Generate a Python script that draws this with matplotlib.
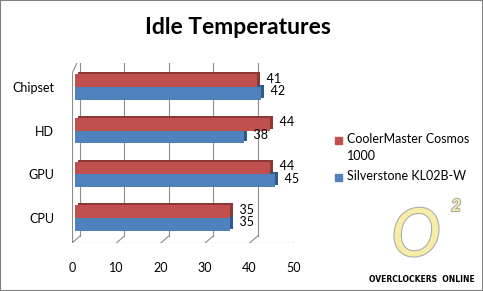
import matplotlib
matplotlib.use("Agg")
import matplotlib.pyplot as plt
import matplotlib.transforms as mtransforms
import matplotlib.patheffects as pe
from matplotlib.patches import Rectangle
import numpy as np

# ---------- DATA ---------- #
categories = ["CPU", "GPU", "HD", "Chipset"]
coolermaster = [35, 44, 44, 41]
silverstone = [35, 45, 38, 42]
series_names = ["CoolerMaster Cosmos\n1000", "Silverstone KL02B-W"]
xticks = [0, 10, 20, 30, 40, 50]

RED, RED_DARK = "#C0504D", "#8C3836"
BLUE, BLUE_DARK = "#4F81BD", "#2E5A8E"
GRID = "#8C8C8C"
FONT = ["Lato", "DejaVu Sans"]

plt.rcParams["font.family"] = FONT

fig = plt.figure(figsize=(4.83, 2.91), dpi=100)
fig.patches.append(Rectangle((0, 0), 1, 1, transform=fig.transFigure,
                             fill=False, edgecolor="#7F7F7F", lw=1.5))

# front plane: 0 -> x=72px, 50 -> x=294px ; floor y=243px, top y=63px
ax = fig.add_axes([72 / 483, 1 - 243 / 291, 222 / 483, 180 / 291])
ax.set_xlim(0, 50)
ax.set_ylim(-0.57, 3.55)
for s in ax.spines.values():
    s.set_visible(False)
ax.patch.set_alpha(0)

# depth offset for back wall
depth = mtransforms.offset_copy(ax.transData, fig=fig, x=8, y=7, units="dots")
back_ax = mtransforms.offset_copy(ax.transAxes, fig=fig, x=8, y=7, units="dots")

# back wall gridlines
for v in xticks:
    ax.plot([v, v], [0, 1], color=GRID, lw=0.8,
            transform=mtransforms.blended_transform_factory(depth, back_ax))
# floor: front edge, diagonal stubs
ax.plot([0, 1], [0, 0], color=GRID, lw=0.8, transform=ax.transAxes)
for v in xticks:
    x0, y0 = ax.transData.transform((v, -0.57))
    x1, y1 = depth.transform((v, -0.57))
    ax.plot([x0, x1], [y0, y1], color=GRID, lw=0.8, transform=None)
# left wall front edge + top diagonal
ax.plot([0, 0], [0, 0.94], color=GRID, lw=0.8, transform=ax.transAxes)
xa, ya = ax.transAxes.transform((0, 0.94))
xb, yb = back_ax.transform((0, 1))
ax.plot([xa, xb], [ya, yb], color=GRID, lw=0.8, transform=None)

# bars with a thin 3D side
y = np.arange(len(categories))
h = 0.29
bar_tr = mtransforms.offset_copy(ax.transData, fig=fig, x=3, y=0, units="dots")
side_tr = mtransforms.offset_copy(ax.transData, fig=fig, x=6, y=2, units="dots")

for vals, off, col, dark in [(coolermaster, h / 2, RED, RED_DARK),
                             (silverstone, -h / 2, BLUE, BLUE_DARK)]:
    ax.barh(y + off, vals, height=h, color=dark, transform=side_tr, zorder=2)
    ax.barh(y + off, vals, height=h, color=col, transform=bar_tr, zorder=3)
    for yi, v in zip(y, vals):
        ax.text(v, yi + off, "  " + str(v), va="center", ha="left",
                fontsize=9, transform=side_tr, zorder=4)

ax.set_yticks(y)
ax.set_yticklabels(categories, fontsize=9)
ax.set_xticks(xticks)
ax.set_xticklabels([str(v) for v in xticks], fontsize=9)
ax.tick_params(length=0)
ax.tick_params(axis="x", pad=14)
ax.tick_params(axis="y", pad=13)

fig.text(238 / 483, 1 - 27 / 291, "Idle Temperatures", fontsize=16.5,
         fontweight="bold", ha="center", va="center")

# legend
ax_leg = fig.add_axes([0, 0, 1, 1])
ax_leg.set_xlim(0, 483)
ax_leg.set_ylim(291, 0)
ax_leg.axis("off")
for (ty, name, col) in [(140, series_names[0], RED), (177, series_names[1], BLUE)]:
    ax_leg.add_patch(Rectangle((335, ty - 3.5), 7, 7, color=col))
    ax_leg.text(347, ty - 7, name, fontsize=9, va="top", ha="left",
                linespacing=1.5)

# watermark
outline = [pe.withStroke(linewidth=1.5, foreground="#A8A8A8")]
ax_leg.text(416, 237, "O", fontsize=48, style="italic", color="#F6EDA8",
            ha="center", va="center", path_effects=outline)
ax_leg.text(456, 206, "2", fontsize=12, style="italic", color="#F6EDA8",
            ha="center", va="center", fontweight="bold", path_effects=outline)
ax_leg.text(475, 279, "OVERCLOCKERS  ONLINE", fontsize=5.5, ha="right",
            va="center", family="DejaVu Sans", fontweight="bold")

fig.savefig("out.png", dpi=100)
